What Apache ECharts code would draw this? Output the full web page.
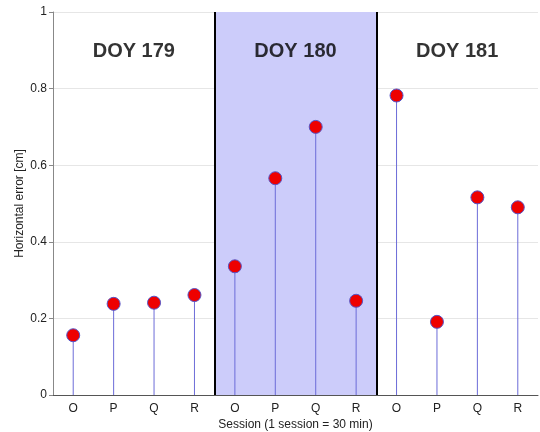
<!DOCTYPE html>
<html>
<head>
<meta charset="utf-8">
<script src="https://cdn.jsdelivr.net/npm/echarts@6/dist/echarts.min.js"></script>
<style>html,body{margin:0;padding:0;background:#fff}#c{width:540px;height:432px}</style>
</head>
<body>
<div id="c"></div>
<script>
const days = ['DOY 179', 'DOY 180', 'DOY 181'];
const sessions = ['O', 'P', 'Q', 'R'];
const errors179 = [0.156, 0.238, 0.241, 0.261];
const errors180 = [0.336, 0.566, 0.700, 0.246];
const errors181 = [0.782, 0.191, 0.516, 0.490];
const yTicks = [0, 0.2, 0.4, 0.6, 0.8, 1];
const shadedDay = 1;

const categories = [];
days.forEach(d => sessions.forEach(s => categories.push(d + '|' + s)));
const values = [].concat(errors179, errors180, errors181);
const n = sessions.length;
const dayLabelY = 0.898;

const FONT = '"Liberation Sans", Arial, Helvetica, sans-serif';
const chart = echarts.init(document.getElementById('c'));
chart.setOption({
  animation: false,
  backgroundColor: '#fff',
  grid: { left: 53, right: 2, top: 12, bottom: 37, outerBoundsMode: 'none', containLabel: false },
  xAxis: [
    {
      type: 'category', data: categories, boundaryGap: true,
      axisLine: { lineStyle: { color: '#555', width: 1 } },
      axisTick: { show: false },
      axisLabel: { formatter: v => v.split('|')[1], color: '#222', fontSize: 12, fontFamily: FONT, margin: 8 },
      name: 'Session (1 session = 30 min)', nameLocation: 'middle', nameGap: 24, nameMoveOverlap: false,
      nameTextStyle: { color: '#222', fontSize: 12, fontFamily: FONT }
    },
    { type: 'value', min: 0, max: categories.length, show: false }
  ],
  yAxis: {
    type: 'value', min: yTicks[0], max: yTicks[yTicks.length - 1], interval: 0.2,
    axisLine: { show: true, lineStyle: { color: '#888', width: 1 } },
    axisTick: { show: true, length: 4, lineStyle: { color: '#888' } },
    splitLine: { lineStyle: { color: '#e6e6e6', width: 1 } },
    axisLabel: { color: '#222', fontSize: 12, fontFamily: FONT, margin: 6 },
    name: 'Horizontal error [cm]', nameLocation: 'middle', nameGap: 27, nameMoveOverlap: false,
    nameTextStyle: { color: '#222', fontSize: 12, fontFamily: FONT }
  },
  series: [
    {
      type: 'line', xAxisIndex: 1, data: [], z: 0, silent: true,
      markArea: {
        silent: true,
        itemStyle: { color: '#ccccfa' },
        data: [[{ xAxis: shadedDay * n, yAxis: yTicks[0] }, { xAxis: (shadedDay + 1) * n, yAxis: yTicks[yTicks.length - 1] }]]
      },
      markLine: {
        silent: true, symbol: 'none', label: { show: false },
        lineStyle: { color: '#000', width: 2, type: 'solid' },
        data: [{ xAxis: shadedDay * n }, { xAxis: (shadedDay + 1) * n }]
      }
    },
    {
      type: 'scatter', xAxisIndex: 1, symbolSize: 0, z: 5, silent: true,
      data: days.map((d, i) => [i * n + n / 2, dayLabelY]),
      label: {
        show: true, position: 'inside',
        formatter: p => days[p.dataIndex],
        color: '#000', fontSize: 20, fontWeight: 'bold', fontFamily: FONT
      }
    },
    {
      type: 'bar', data: values, barWidth: 1, z: 2,
      itemStyle: { color: '#6c6cd8' }
    },
    {
      type: 'scatter', data: values, symbol: 'circle', symbolSize: 13, z: 4,
      itemStyle: { color: '#ee0000', borderColor: '#5555c8', borderWidth: 1, opacity: 1 }
    }
  ]
});
</script>
</body>
</html>
